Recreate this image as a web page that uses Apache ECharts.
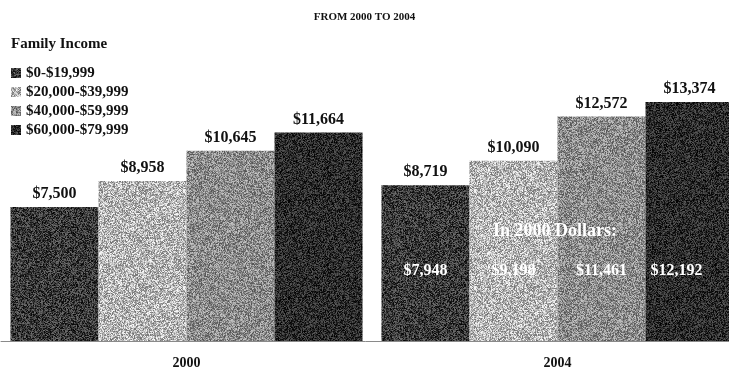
<!DOCTYPE html>
<html>
<head>
<meta charset="utf-8">
<script src="https://cdn.jsdelivr.net/npm/echarts@6/dist/echarts.min.js"></script>
<style>
  html, body { margin: 0; padding: 0; background: #fff; }
  #chart { width: 729px; height: 370px; }
</style>
</head>
<body>
<div id="chart"></div>
<script>
// Average amounts by family income bracket
const years = ['2000', '2004'];
const brackets = ['$0-$19,999', '$20,000-$39,999', '$40,000-$59,999', '$60,000-$79,999'];
const amounts = [
  [7500, 8719],    // $0-$19,999
  [8958, 10090],   // $20,000-$39,999
  [10645, 12572],  // $40,000-$59,999
  [11664, 13374]   // $60,000-$79,999
];
// 2004 amounts restated in 2000 dollars
const constantDollars = [7948, 9198, 11461, 12192];
const titleText = 'FROM 2000 TO 2004';
const legendTitle = 'Family Income';
const constantNote = 'In 2000 Dollars:';

const serif = '"Liberation Serif", "Times New Roman", serif';

// Grainy fill: base gray with a deterministic per-pixel speckle
function grain(base, amp, seed) {
  const size = 97;
  const c = document.createElement('canvas');
  c.width = size; c.height = size;
  const ctx = c.getContext('2d');
  const img = ctx.createImageData(size, size);
  let s = seed >>> 0;
  for (let i = 0; i < size * size; i++) {
    s = (Math.imul(s, 1664525) + 1013904223) >>> 0;
    const n = ((s >>> 8) & 0xffff) / 65535 - 0.5;
    const v = Math.max(0, Math.min(255, Math.round(base + n * 2 * amp)));
    img.data[i * 4] = v; img.data[i * 4 + 1] = v; img.data[i * 4 + 2] = v; img.data[i * 4 + 3] = 255;
  }
  ctx.putImageData(img, 0, 0);
  return { image: c, repeat: 'repeat' };
}
const fills = [grain(58, 55, 11), grain(182, 70, 23), grain(140, 60, 37), grain(44, 45, 53)];

const money = v => '$' + Number(v).toLocaleString('en-US');

const series = brackets.map((name, i) => ({
  name: name,
  type: 'bar',
  xAxisIndex: 0, yAxisIndex: 0,
  barGap: 0,
  barCategoryGap: '5.1%',
  data: amounts[i],
  itemStyle: { color: fills[i] },
  label: {
    show: true, position: 'top', distance: 5,
    fontFamily: serif, fontWeight: 'bold', fontSize: 16, color: '#111',
    formatter: p => money(p.value)
  }
}));

// Constant-dollar figures printed inside the 2004 bars
brackets.forEach((name, i) => {
  series.push({
    name: name + ' (2000 dollars)',
    type: 'bar',
    xAxisIndex: 1, yAxisIndex: 1,
    barGap: 0,
    barCategoryGap: '5.1%',
    silent: true,
    data: ['-', constantDollars[i]],
    itemStyle: { color: 'rgba(0,0,0,0)' },
    label: {
      show: true, position: 'insideBottom', distance: 62,
      // the last bar is cut by the page edge, so its figure sits a little left
      offset: i === brackets.length - 1 ? [-13, 0] : [0, 0],
      fontFamily: serif, fontWeight: 'bold', fontSize: 16, color: '#fff',
      formatter: p => money(p.value)
    }
  });
});

const chart = echarts.init(document.getElementById('chart'), null, { renderer: 'canvas' });
chart.setOption({
  animation: false,
  backgroundColor: '#fff',
  title: [
    { text: titleText, left: 'center', top: 12, padding: 0,
      textStyle: { fontFamily: serif, fontWeight: 'bold', fontSize: 11, color: '#111' } },
    { text: legendTitle, left: 11, top: 37, padding: 0,
      textStyle: { fontFamily: serif, fontWeight: 'bold', fontSize: 15, color: '#111' } }
  ],
  legend: {
    data: brackets,
    orient: 'vertical',
    left: 11, top: 65, padding: 0,
    itemWidth: 10, itemHeight: 10,
    itemGap: 3,
    icon: 'rect',
    selectedMode: false,
    textStyle: { fontFamily: serif, fontWeight: 'bold', fontSize: 15, color: '#111',
                 lineHeight: 16 }
  },
  // the last bar runs past the right edge of the page
  grid: { left: 1, right: -14, top: 19.4, bottom: 29, containLabel: false, outerBoundsMode: 'none' },
  xAxis: [
    { type: 'category', data: years,
      axisTick: { show: false },
      axisLine: { show: true, lineStyle: { color: '#8a8a8a', width: 1 } },
      axisLabel: { margin: 15, fontFamily: serif, fontWeight: 'bold', fontSize: 14, color: '#111' } },
    { type: 'category', data: years, show: false }
  ],
  yAxis: [
    { type: 'value', min: 0, max: 18000, show: false, splitLine: { show: false } },
    { type: 'value', min: 0, max: 18000, show: false, splitLine: { show: false } }
  ],
  graphic: [
    { type: 'text', x: 555, y: 231, z: 100, silent: true,
      style: { text: constantNote, fill: '#fff', font: 'bold 18px ' + serif,
               align: 'center', verticalAlign: 'middle' } }
  ],
  series: series
});
</script>
</body>
</html>
